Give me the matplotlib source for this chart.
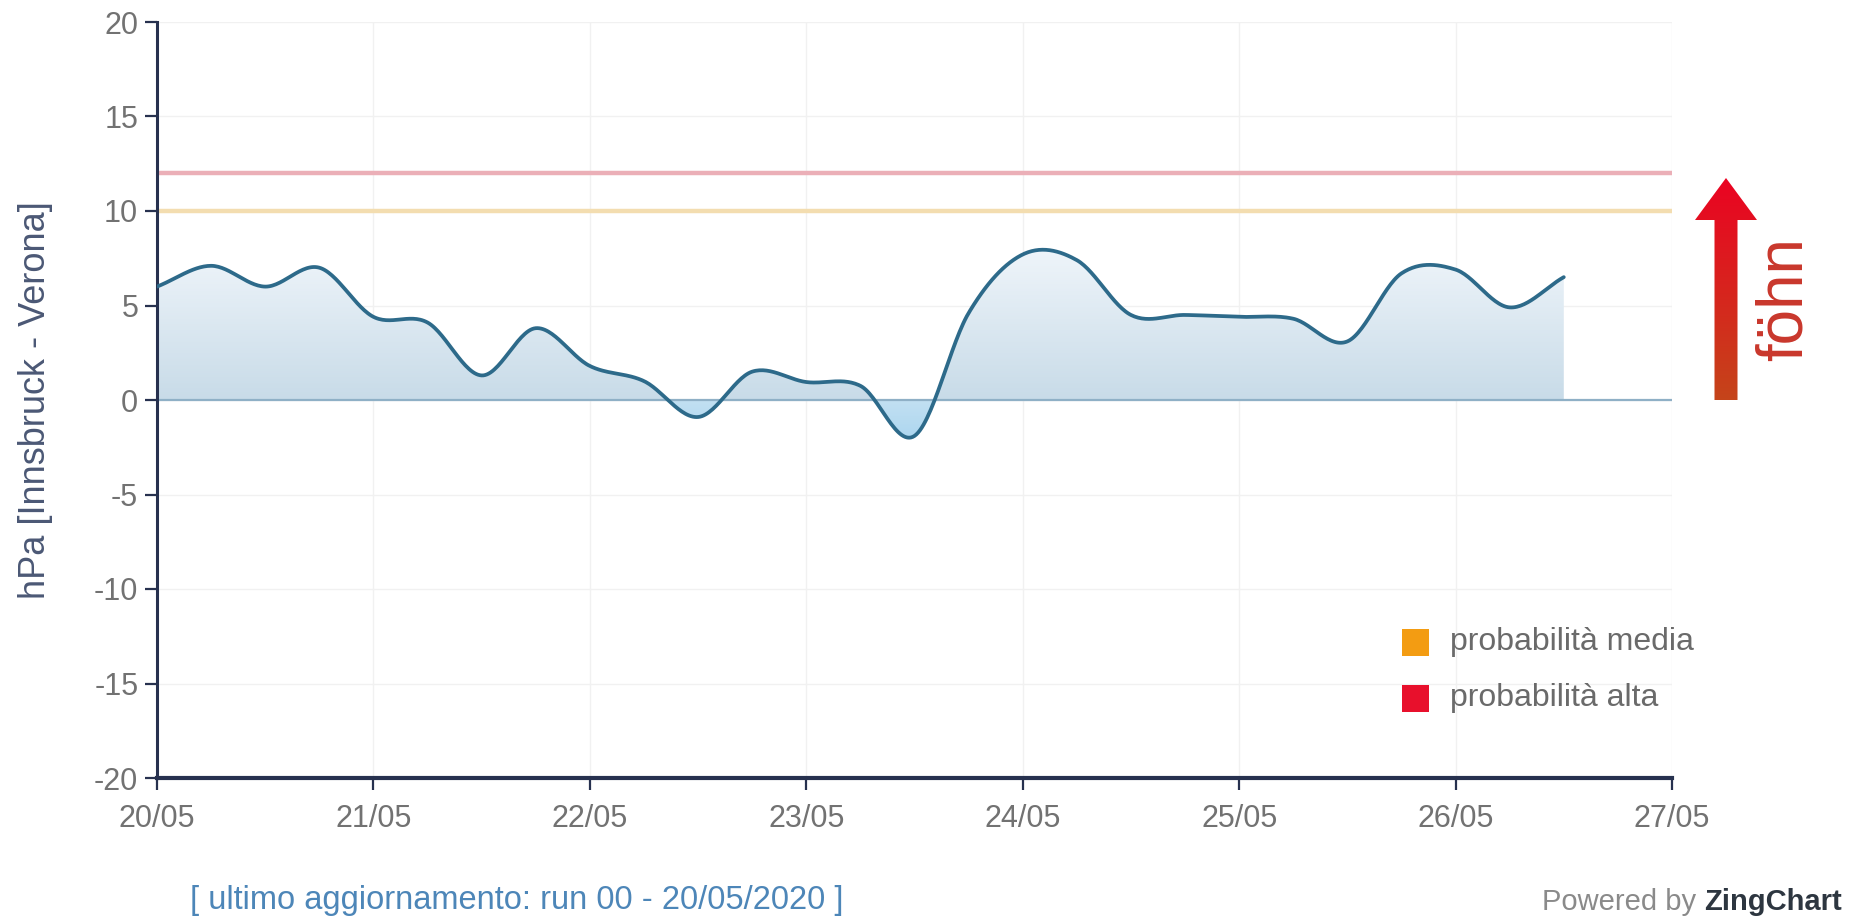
import numpy as np
import matplotlib
matplotlib.use('Agg')
import matplotlib.pyplot as plt
from matplotlib.path import Path
from matplotlib.patches import PathPatch, Rectangle
from matplotlib.colors import to_rgb

plt.rcParams['font.family'] = ['Liberation Sans', 'DejaVu Sans']

# ---------------- data ----------------
day_labels = ['20/05', '21/05', '22/05', '23/05', '24/05', '25/05', '26/05', '27/05']
hours = [0, 6, 12, 18, 24, 30, 36, 42, 48, 54, 60, 66, 72, 78, 84, 90,
         96, 102, 108, 114, 120, 126, 132, 138, 144, 150, 156]
values = [6.0, 7.1, 6.0, 7.0,      # 20/05
          4.4, 4.1, 1.3, 3.8,      # 21/05
          1.8, 1.0, -0.9, 1.5,     # 22/05
          0.95, 0.75, -1.9, 4.6,   # 23/05
          7.7, 7.4, 4.5, 4.5,      # 24/05
          4.4, 4.3, 3.1, 6.7,      # 25/05
          6.9, 4.9, 6.5]           # 26/05
threshold_values = [10, 12]
threshold_labels = ['probabilità media', 'probabilità alta']
y_ticks = [-20, -15, -10, -5, 0, 5, 10, 15, 20]

# ---------------- figure ----------------
W, H = 1854, 918
fig = plt.figure(figsize=(W / 100, H / 100), dpi=100)
fig.patch.set_facecolor('white')

def fx(px):
    return px / W

def fy(py):
    return 1 - py / H

ax = fig.add_axes([fx(157), fy(778), fx(1672) - fx(157), fy(22) - fy(778)])
ax.set_xlim(0, 7)
ax.set_ylim(-20, 20)


def catmull_rom(x, y, n=30):
    P = np.column_stack([np.asarray(x, float), np.asarray(y, float)])
    P = np.vstack([2 * P[0] - P[1], P, 2 * P[-1] - P[-2]])
    out = []
    t = np.linspace(0, 1, n, endpoint=False)[:, None]
    for i in range(1, len(P) - 2):
        p0, p1, p2, p3 = P[i - 1], P[i], P[i + 1], P[i + 2]
        seg = 0.5 * ((2 * p1) + (-p0 + p2) * t
                     + (2 * p0 - 5 * p1 + 4 * p2 - p3) * t ** 2
                     + (-p0 + 3 * p1 - 3 * p2 + p3) * t ** 3)
        out.append(seg)
    out.append(P[-2][None, :])
    return np.vstack(out)


xd = np.array(hours) / 24.0
curve = catmull_rom(xd, values)
sx, sy = curve[:, 0], curve[:, 1]

# grid
ax.set_xticks(range(8))
ax.set_yticks(y_ticks)
ax.grid(True, color='#f1f1f1', lw=1.0)
ax.set_axisbelow(True)

# gradient area fill between curve and 0
poly = np.vstack([curve, [[sx[-1], 0], [sx[0], 0]]])
clip = PathPatch(Path(poly), facecolor='none', edgecolor='none')
ax.add_patch(clip)
ylo, yhi = -3.0, 8.5
ny = 400
yy = np.linspace(ylo, yhi, ny)
c_top = np.array(to_rgb('#eff5fa'))
c_zero = np.array(to_rgb('#c8dbe8'))
c_neg0 = np.array(to_rgb('#c2e0f2'))
c_neg = np.array(to_rgb('#a8d4ef'))
img = np.zeros((ny, 1, 3))
for i, v in enumerate(yy):
    if v >= 0:
        f = min(v / 8.0, 1.0)
        img[i, 0] = c_zero * (1 - f) + c_top * f
    else:
        f = min(-v / 2.5, 1.0)
        img[i, 0] = c_neg0 * (1 - f) + c_neg * f
im = ax.imshow(img, extent=[sx[0], sx[-1], ylo, yhi], origin='lower',
               aspect='auto', zorder=1, interpolation='bilinear')
im.set_clip_path(clip)

# threshold lines & zero line
ax.axhline(threshold_values[0], color='#f3ddb0', lw=3.2, zorder=2)
ax.axhline(threshold_values[1], color='#ebafb7', lw=3.2, zorder=2)
ax.axhline(0, color='#8fb0c6', lw=1.6, zorder=2)

# main line
ax.plot(sx, sy, color='#2d6a8a', lw=2.7, zorder=4, solid_capstyle='round')

# axes styling
for s in ['top', 'right']:
    ax.spines[s].set_visible(False)
ax.spines['left'].set_color('#27314f')
ax.spines['left'].set_linewidth(2.2)
ax.spines['bottom'].set_color('#27314f')
ax.spines['bottom'].set_linewidth(3.0)
ax.set_xticklabels(day_labels)
ax.set_yticklabels([str(v) for v in y_ticks])
ax.tick_params(axis='both', direction='out', length=8.5, width=1.6,
               color='#27314f', labelcolor='#727272', labelsize=22)
ax.tick_params(axis='x', pad=10)
ax.tick_params(axis='y', pad=5)

# y label
fig.text(fx(36), fy(400), 'hPa [Innsbruck - Verona]', rotation=90,
         ha='center', va='center', fontsize=26, color='#4b5875')

# legend
leg_colors = ['#f39c12', '#e8102c']
leg_y = [642, 698]
for c, lab, yc in zip(leg_colors, threshold_labels, leg_y):
    fig.patches.append(Rectangle((fx(1402), fy(yc + 13.5)), 27 / W, 27 / H,
                                 transform=fig.transFigure, facecolor=c,
                                 edgecolor='none'))
    fig.text(fx(1450), fy(yc), lab, ha='left', va='center', fontsize=23,
             color='#6a6a6a')

# föhn arrow (gradient)
aax = fig.add_axes([fx(1690), fy(405), fx(1762) - fx(1690), fy(170) - fy(405)])
aax.set_xlim(1690, 1762)
aax.set_ylim(405, 170)
aax.axis('off')
cx = 1726
arrow_pts = [(cx - 11.5, 400), (cx + 11.5, 400), (cx + 11.5, 220), (cx + 31, 220),
             (cx, 178), (cx - 31, 220), (cx - 11.5, 220)]
apatch = PathPatch(Path(np.array(arrow_pts + [arrow_pts[0]]), closed=True),
                   facecolor='none', edgecolor='none')
aax.add_patch(apatch)
na = 300
a_top = np.array(to_rgb('#ec0022'))
a_bot = np.array(to_rgb('#c4461a'))
aimg = np.zeros((na, 1, 3))
for i in range(na):
    f = i / (na - 1)
    aimg[i, 0] = a_top * (1 - f) + a_bot * f
aim = aax.imshow(aimg, extent=[1690, 1762, 405, 170], origin='upper',
                 aspect='auto', interpolation='bilinear')
aim.set_clip_path(apatch)

fig.text(fx(1785), fy(299), 'föhn', rotation=90, ha='center', va='center',
         fontsize=46, color='#c9372c')

# footer
fig.text(fx(190), fy(900), '[ ultimo aggiornamento: run 00 - 20/05/2020 ]',
         ha='left', va='center', fontsize=23.5, color='#4d86b8')

t2 = fig.text(fx(1842), fy(902), 'ZingChart', ha='right', va='center',
              fontsize=21, fontweight='bold', color='#2d3640')
fig.canvas.draw()
bb = t2.get_window_extent(renderer=fig.canvas.get_renderer())
fig.text(bb.x0 / W, fy(902), 'Powered by ', ha='right', va='center',
         fontsize=21, color='#8a8a8a')

fig.savefig('out.png', dpi=100, facecolor='white')
